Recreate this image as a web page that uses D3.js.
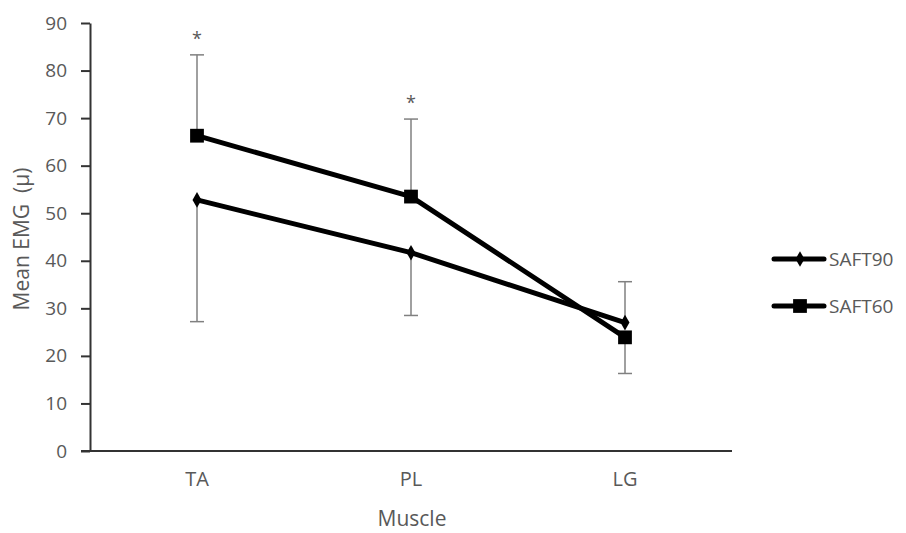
<!DOCTYPE html>
<html>
<head>
<meta charset="utf-8">
<script src="https://cdn.jsdelivr.net/npm/d3@7"></script>
<style>
  html, body { margin: 0; padding: 0; background: #fff; }
  svg text { font-family: "Open Sans", "Noto Sans", sans-serif; fill: #595959; white-space: pre; }
</style>
</head>
<body>
<svg id="chart" width="906" height="533"></svg>
<script>
// Muscles on the x axis
const muscles = ["TA", "PL", "LG"];
// Mean EMG per condition
const saft90 = [52.8, 41.7, 27.0];
const saft60 = [66.3, 53.5, 23.9];
// One-sided error bar lengths (SD) and their direction (+1 up, -1 down)
const saft90Err = [25.6, 13.2, 8.6];
const saft90Dir = [-1, -1, 1];
const saft60Err = [17.0, 16.3, 7.6];
const saft60Dir = [1, 1, -1];
// Significance markers
const sigMarks = ["*", "*", ""];
const yTicks = [0, 10, 20, 30, 40, 50, 60, 70, 80, 90];

const svg = d3.select("#chart");
const margin = { left: 90, right: 174, top: 23, bottom: 82 };
const W = 906, H = 533;

const x = d3.scaleBand().domain(muscles).range([margin.left, W - margin.right]);
const y = d3.scaleLinear().domain([0, 90]).range([H - margin.bottom, margin.top]);
const cx = d => x(d) + x.bandwidth() / 2;

// Y axis
const yAxis = svg.append("g").attr("transform", `translate(${margin.left},0)`)
  .call(d3.axisLeft(y).tickValues(yTicks).tickSize(9).tickPadding(14).tickSizeOuter(0));
yAxis.select(".domain").attr("stroke", "#333").attr("stroke-width", 2);
yAxis.selectAll(".tick line").attr("stroke", "#333").attr("stroke-width", 2);
yAxis.selectAll(".tick text").style("font-size", "19px").attr("fill", "#595959");

// X axis
const xAxis = svg.append("g").attr("transform", `translate(0,${y(0)})`)
  .call(d3.axisBottom(x).tickSize(0).tickPadding(21).tickSizeOuter(0));
xAxis.select(".domain").attr("stroke", "#333").attr("stroke-width", 2)
  .attr("d", `M${margin.left - 9},0H${W - margin.right}`);
xAxis.selectAll(".tick text").style("font-size", "20px").attr("fill", "#595959");

// Axis titles
svg.append("text").attr("transform", `translate(29,${(y(0) + y(90)) / 2 + 2}) rotate(-90)`)
  .attr("text-anchor", "middle").style("font-size", "21px").text("Mean EMG  (\u00b5)");
svg.append("text").attr("x", cx("PL") + 1).attr("y", 526)
  .attr("text-anchor", "middle").style("font-size", "21px").text("Muscle");

// Error bars
function errorBars(vals, errs, dirs) {
  const g = svg.append("g").attr("stroke", "#808080").attr("stroke-width", 1.5);
  muscles.forEach((m, i) => {
    const end = vals[i] + dirs[i] * errs[i];
    g.append("line").attr("x1", cx(m)).attr("x2", cx(m)).attr("y1", y(vals[i])).attr("y2", y(end));
    g.append("line").attr("x1", cx(m) - 7).attr("x2", cx(m) + 7).attr("y1", y(end)).attr("y2", y(end));
  });
}
errorBars(saft90, saft90Err, saft90Dir);
errorBars(saft60, saft60Err, saft60Dir);

// Series lines
const line = d3.line().x((d, i) => cx(muscles[i])).y(d => y(d));
[saft90, saft60].forEach(s => {
  svg.append("path").datum(s).attr("d", line).attr("fill", "none")
    .attr("stroke", "#000").attr("stroke-width", 5).attr("stroke-linejoin", "round");
});

// Markers
const diamond = d3.symbol().type(d3.symbolDiamond).size(70);
const square = d3.symbol().type(d3.symbolSquare).size(190);
svg.append("g").selectAll("path").data(saft90).join("path")
  .attr("d", diamond).attr("fill", "#000")
  .attr("transform", (d, i) => `translate(${cx(muscles[i])},${y(d)})`);
svg.append("g").selectAll("path").data(saft60).join("path")
  .attr("d", square).attr("fill", "#000")
  .attr("transform", (d, i) => `translate(${cx(muscles[i])},${y(d)})`);

// Significance stars above the upper error bars
muscles.forEach((m, i) => {
  if (!sigMarks[i]) return;
  const top = saft60[i] + saft60Err[i];
  svg.append("text").attr("x", cx(m)).attr("y", y(top) - 10)
    .attr("text-anchor", "middle").style("font-size", "18px").attr("fill", "#333")
    .text(sigMarks[i]);
});

// Legend
const legend = [
  { name: "SAFT90", sym: diamond, yy: 259 },
  { name: "SAFT60", sym: square, yy: 306 }
];
legend.forEach(l => {
  svg.append("line").attr("x1", 774).attr("x2", 824).attr("y1", l.yy).attr("y2", l.yy)
    .attr("stroke", "#000").attr("stroke-width", 5).attr("stroke-linecap", "round");
  svg.append("path").attr("d", l.sym).attr("fill", "#000")
    .attr("transform", `translate(800,${l.yy})`);
  svg.append("text").attr("x", 829).attr("y", l.yy + 7).style("font-size", "19px").text(l.name);
});
</script>
</body>
</html>
